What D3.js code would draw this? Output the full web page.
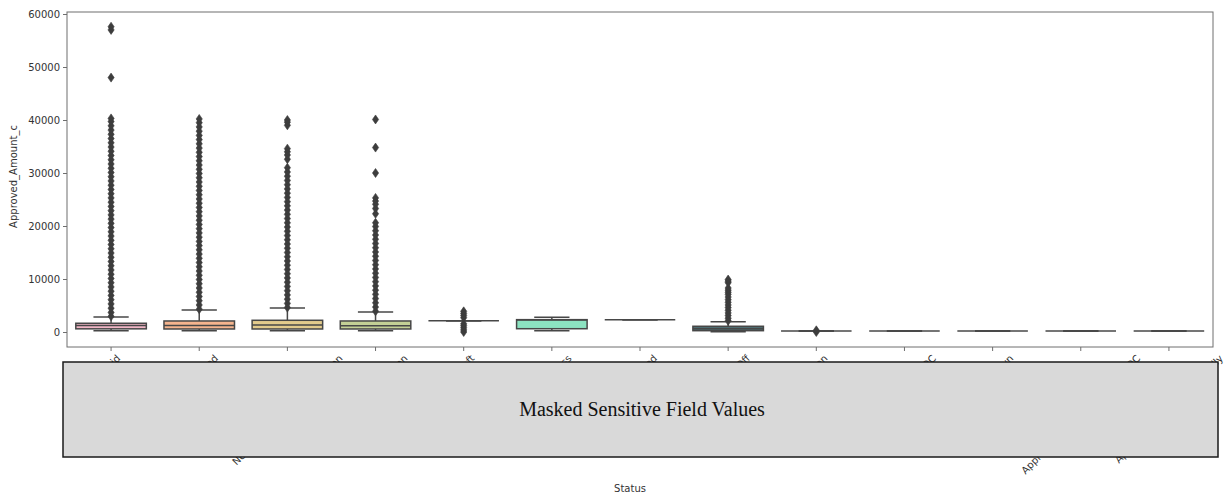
<!DOCTYPE html>
<html>
<head>
<meta charset="utf-8">
<script src="https://cdn.jsdelivr.net/npm/d3@7"></script>
<style>
  html, body { margin: 0; padding: 0; background: #ffffff; }
  svg { display: block; }
</style>
</head>
<body>
<svg id="chart" width="1224" height="495"></svg>
<script>
// Status categories along the x axis
const categories = [
  "Paid", "Approved", "Needs Further Documentation", "Pending Decision",
  "Draft", "In Process", "Rejected", "Handed Off", "Open",
  "Pending Final QC", "Withdrawn", "Approved - Awaiting External QC",
  "Approved - Paid Only Partially"
];

// Box statistics per status: lower whisker, Q1, median, Q3, upper whisker
const whiskerLow  = [250, 250, 250, 250, 2100, 250, 2330, 60, 180, 180, 180, 180, 180];
const q1Values    = [600, 570, 570, 570, 2100, 620, 2330, 250, 180, 180, 180, 180, 180];
const medians     = [1250, 1230, 1300, 1200, 2100, 2250, 2330, 600, 180, 180, 180, 180, 180];
const q3Values    = [1650, 2080, 2210, 2080, 2100, 2330, 2330, 1080, 180, 180, 180, 180, 180];
const whiskerHigh = [2850, 4150, 4530, 3780, 2100, 2780, 2330, 1950, 180, 180, 180, 180, 180];

// Outlying amounts per status
const outliers = [
  [2950, 3700, 4500, 5300, 6100, 6900, 7700, 8500, 9300, 10100, 10900, 11700, 12500, 13300,
   14100, 14900, 15700, 16500, 17300, 18100, 18900, 19700, 20500, 21300, 22100, 22900, 23700,
   24500, 25300, 26100, 26900, 27700, 28500, 29300, 30100, 30900, 31700, 32500, 33300, 34100,
   34900, 35700, 36500, 37300, 38100, 38900, 39700, 40300, 48000, 57000, 57600],
  [4300, 5100, 5900, 6700, 7500, 8300, 9100, 9900, 10700, 11500, 12300, 13100, 13900, 14700,
   15500, 16300, 17100, 17900, 18700, 19500, 20300, 21100, 21900, 22700, 23500, 24300, 25100,
   25900, 26700, 27500, 28300, 29100, 29900, 30700, 31500, 32300, 33100, 33900, 34700, 35500,
   36300, 37100, 37900, 38700, 39500, 40200],
  [4600, 5400, 6200, 7000, 7800, 8600, 9400, 10200, 11000, 11800, 12600, 13400, 14200, 15000,
   15800, 16600, 17400, 18200, 19000, 19800, 20600, 21400, 22200, 23000, 23800, 24600, 25400,
   26200, 27000, 27800, 28600, 29400, 30200, 31000, 32600, 33400, 34000, 34600, 39000, 39600, 40000],
  [3900, 4700, 5500, 6300, 7100, 7900, 8700, 9500, 10300, 11100, 11900, 12700, 13500, 14300,
   15100, 15900, 16700, 17500, 18300, 19100, 19900, 20600, 22300, 23300, 24100, 24700, 25300,
   30000, 34800, 40100],
  [0, 400, 800, 1200, 1550, 2700, 3100, 3500, 3900],
  [],
  [],
  [2100, 2600, 3100, 3600, 4100, 4600, 5100, 5600, 6100, 6600, 7100, 7500, 7900, 8300,
   9300, 9600, 9900],
  [0, 320],
  [], [], [], []
];

// Fill colours of the boxes
const boxColors = [
  "#f1b6c6", "#f5b48e", "#e3cb8c", "#c3cf95", "#a9d89e", "#8ce3c1", "#84d6d4",
  "#4e6d72", "#98bde6", "#b6b0ea", "#d3a9e6", "#e7a9d6", "#efafc4"
];

// Y axis tick values
const yTicks = [0, 10000, 20000, 30000, 40000, 50000, 60000];
const yDomain = [-2830, 60380];

const svg = d3.select("#chart");
const plot = { left: 67, right: 1213, top: 12, bottom: 347 };

const x = d3.scaleBand().domain(categories).range([plot.left, plot.right]).padding(0);
const y = d3.scaleLinear().domain(yDomain).range([plot.bottom, plot.top]);

const lineColor = "#474747";
const textColor = "#333333";
const boxW = x.bandwidth() * 0.8;
const capW = boxW * 0.5;

const rows = categories.map((c, i) => ({
  cat: c, lo: whiskerLow[i], q1: q1Values[i], med: medians[i], q3: q3Values[i],
  hi: whiskerHigh[i], out: outliers[i], color: boxColors[i]
}));

const boxes = svg.append("g").attr("class", "boxes");

rows.forEach(r => {
  const cx = x(r.cat) + x.bandwidth() / 2;
  const g = boxes.append("g");
  // whiskers
  g.append("line").attr("x1", cx).attr("x2", cx).attr("y1", y(r.q3)).attr("y2", y(r.hi))
    .attr("stroke", lineColor).attr("stroke-width", 1.5);
  g.append("line").attr("x1", cx).attr("x2", cx).attr("y1", y(r.q1)).attr("y2", y(r.lo))
    .attr("stroke", lineColor).attr("stroke-width", 1.5);
  // caps
  [r.lo, r.hi].forEach(v => {
    g.append("line").attr("x1", cx - capW / 2).attr("x2", cx + capW / 2)
      .attr("y1", y(v)).attr("y2", y(v))
      .attr("stroke", lineColor).attr("stroke-width", 1.5);
  });
  // box
  g.append("rect").attr("x", cx - boxW / 2).attr("width", boxW)
    .attr("y", y(r.q3)).attr("height", Math.max(0, y(r.q1) - y(r.q3)))
    .attr("fill", r.color).attr("stroke", lineColor).attr("stroke-width", 1.5);
  // median
  g.append("line").attr("x1", cx - boxW / 2).attr("x2", cx + boxW / 2)
    .attr("y1", y(r.med)).attr("y2", y(r.med))
    .attr("stroke", lineColor).attr("stroke-width", 1.5);
  // outliers as thin diamonds
  g.selectAll("path.flier").data(r.out).enter().append("path")
    .attr("class", "flier")
    .attr("d", "M0,-4.5 L3.1,0 L0,4.5 L-3.1,0 Z")
    .attr("transform", v => `translate(${cx},${y(v)})`)
    .attr("fill", "#3d3d3d").attr("stroke", "#3d3d3d").attr("stroke-width", 0.6);
});

// Frame around the plotting area
svg.append("rect")
  .attr("x", plot.left).attr("y", plot.top)
  .attr("width", plot.right - plot.left).attr("height", plot.bottom - plot.top)
  .attr("fill", "none").attr("stroke", "#6e6e6e").attr("stroke-width", 1);

// Y axis
const yAxis = svg.append("g")
  .attr("transform", `translate(${plot.left},0)`)
  .call(d3.axisLeft(y).tickValues(yTicks).tickSize(4).tickPadding(3).tickFormat(d3.format("d")));
yAxis.select(".domain").remove();
yAxis.selectAll(".tick line").attr("stroke", "#6e6e6e");
yAxis.selectAll(".tick text").attr("fill", textColor)
  .style("font-family", "DejaVu Sans, sans-serif").style("font-size", "10px");

// X axis ticks
const xAxis = svg.append("g")
  .attr("transform", `translate(0,${plot.bottom})`)
  .call(d3.axisBottom(x).tickSize(4).tickFormat(""));
xAxis.select(".domain").remove();
xAxis.selectAll(".tick line").attr("stroke", "#6e6e6e");

// Rotated category labels, each centred under its tick
const labelTop = plot.bottom + 6;
const labels = svg.append("g").attr("class", "xlabels");
categories.forEach(c => {
  const t = labels.append("text")
    .text(c)
    .attr("fill", textColor)
    .style("font-family", "DejaVu Sans, sans-serif")
    .style("font-size", "10px")
    .attr("text-anchor", "middle")
    .attr("dominant-baseline", "central");
  const L = t.node().getComputedTextLength();
  const half = (L + 10) / (2 * Math.SQRT2);
  const cx = x(c) + x.bandwidth() / 2;
  const cy = labelTop + half;
  t.attr("x", cx).attr("y", cy).attr("transform", `rotate(-45,${cx},${cy})`);
});

// Axis titles
svg.append("text")
  .attr("transform", `translate(17,${(plot.top + plot.bottom) / 2 - 3}) rotate(-90)`)
  .attr("text-anchor", "middle")
  .attr("fill", textColor)
  .style("font-family", "DejaVu Sans, sans-serif").style("font-size", "10px")
  .text("Approved_Amount_c");

svg.append("text")
  .attr("x", 630).attr("y", 492)
  .attr("text-anchor", "middle")
  .attr("fill", textColor)
  .style("font-family", "DejaVu Sans, sans-serif").style("font-size", "10px")
  .text("Status");

// Grey panel covering the category names
svg.append("rect")
  .attr("x", 63).attr("y", 362).attr("width", 1155).attr("height", 95)
  .attr("fill", "#d9d9d9").attr("stroke", "#1a1a1a").attr("stroke-width", 1.5);
svg.append("text")
  .attr("x", 642).attr("y", 416)
  .attr("text-anchor", "middle")
  .attr("fill", "#111111")
  .style("font-family", "Liberation Serif, Times New Roman, serif").style("font-size", "20px")
  .text("Masked Sensitive Field Values");
</script>
</body>
</html>
